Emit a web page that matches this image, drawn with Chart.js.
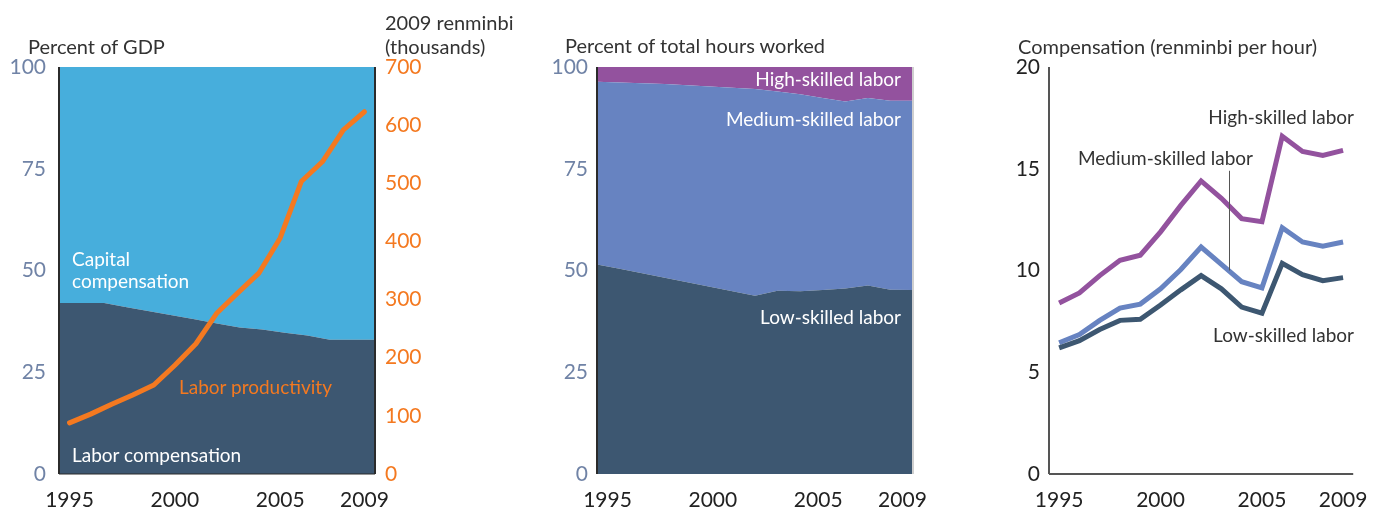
<!DOCTYPE html>
<html>
<head>
<meta charset="utf-8">
<script src="https://cdn.jsdelivr.net/npm/chart.js@4"></script>
<style>
  html, body { margin: 0; padding: 0; background: #fff; }
  body { width: 1382px; height: 510px; position: relative; overflow: hidden; font-family: Lato, "Open Sans", sans-serif; }
  .box { position: absolute; top: 0; height: 510px; }
  .txt { position: absolute; font-size: 19px; line-height: 22px; white-space: nowrap; color: #333; }
  .ttl { font-size: 20px; line-height: 24px; }
  .w { color: #fff; }
</style>
</head>
<body>
<div class="box" style="left:0;width:460px"><canvas id="c1"></canvas></div>
<div class="box" style="left:500px;width:460px"><canvas id="c2"></canvas></div>
<div class="box" style="left:990px;width:392px"><canvas id="c3"></canvas></div>

<div class="txt ttl" style="left:28px;top:34px">Percent of GDP</div>
<div class="txt ttl" style="left:385px;top:10px">2009 renminbi<br>(thousands)</div>
<div class="txt w" style="left:72px;top:248px">Capital<br>compensation</div>
<div class="txt" style="left:179px;top:376px;color:#f47920">Labor productivity</div>
<div class="txt w" style="left:72px;top:444px">Labor compensation</div>

<div class="txt ttl" style="left:565px;top:33px">Percent of total hours worked</div>
<div class="txt w" style="right:481px;top:68px">High-skilled labor</div>
<div class="txt w" style="right:481px;top:108px">Medium-skilled labor</div>
<div class="txt w" style="right:481px;top:306px">Low-skilled labor</div>

<div class="txt ttl" style="left:1018px;top:34px">Compensation (renminbi per hour)</div>
<div class="txt" style="right:28px;top:106px">High-skilled labor</div>
<div class="txt" style="right:129px;top:147px">Medium-skilled labor</div>
<div class="txt" style="right:28px;top:324px">Low-skilled labor</div>

<script>
// ---------- data ----------
const years = ['1995','1996','1997','1998','1999','2000','2001','2002','2003','2004','2005','2006','2007','2008','2009'];
const shownYears = ['1995','2000','2005','2009'];

// Panel 1: shares of GDP (percent) and labor productivity (2009 renminbi, thousands)
const laborCompShare   = [42, 42, 42, 41, 40, 39, 38, 37, 36, 35.5, 34.7, 34, 33, 33, 33];
const capitalCompShare = [58, 58, 58, 59, 60, 61, 62, 63, 64, 64.5, 65.3, 66, 67, 67, 67];
const laborProductivity = [88, 103, 120, 136, 153, 187, 224, 277, 312, 346, 406, 503, 537, 592, 623];

// Panel 2: percent of total hours worked
const lowSkillHours    = [51.5, 50.4, 49.3, 48.2, 47.1, 46.0, 44.9, 43.8, 45.0, 44.9, 45.2, 45.6, 46.3, 45.3, 45.2];
const mediumSkillHours = [44.9, 45.8, 46.7, 47.6, 48.4, 49.2, 50.0, 50.8, 49.0, 48.4, 47.2, 45.9, 46.1, 46.4, 46.5];
const highSkillHours   = [3.6, 3.8, 4.0, 4.2, 4.5, 4.8, 5.1, 5.4, 6.0, 6.7, 7.6, 8.5, 7.6, 8.3, 8.3];

// Panel 3: compensation (renminbi per hour)
const highSkillComp   = [8.4, 8.9, 9.75, 10.5, 10.75, 11.9, 13.2, 14.4, 13.55, 12.55, 12.4, 16.6, 15.85, 15.65, 15.9];
const mediumSkillComp = [6.45, 6.85, 7.55, 8.15, 8.35, 9.1, 10.05, 11.15, 10.3, 9.45, 9.15, 12.1, 11.4, 11.2, 11.4];
const lowSkillComp    = [6.2, 6.55, 7.1, 7.55, 7.6, 8.3, 9.05, 9.75, 9.1, 8.2, 7.9, 10.35, 9.8, 9.5, 9.65];

const pctTicks = [0, 25, 50, 75, 100];

// ---------- styles ----------
const FONT = 'Lato, "Open Sans", sans-serif';
const C = { capital:'#47aedc', labor:'#3d5771', orange:'#f47920', medium:'#6783c1', high:'#93529e', tickBlue:'#7083a6', dark:'#222' };

function fixedWidth(w){ return function(s){ s.width = w; }; }
function fixedHeight(h){ return function(s){ s.height = h; }; }

function xAxes(){
  return {
    x: { type:'category', offset:true, grid:{ display:false, drawTicks:false }, border:{ display:false },
         ticks:{ autoSkip:false, maxRotation:0, padding:14, color:'#222', font:{ family:FONT, size:21 },
                 callback:function(v){ const l = this.getLabelForValue(v); return shownYears.includes(l) ? l : ''; } },
         afterFit: fixedHeight(36) },
    xa:{ type:'category', offset:false, display:false }
  };
}

const framePlugin = {
  id:'frame',
  afterDatasetsDraw(chart, args, opts){
    const ctx = chart.ctx, a = chart.chartArea;
    ctx.save();
    (opts.lines||[]).forEach(l=>{
      ctx.strokeStyle = l.color; ctx.lineWidth = l.width;
      ctx.beginPath();
      if (l.side==='left'){ ctx.moveTo(a.left, a.top); ctx.lineTo(a.left, a.bottom); }
      if (l.side==='right'){ ctx.moveTo(a.right, a.top); ctx.lineTo(a.right, a.bottom); }
      if (l.side==='bottom'){ ctx.moveTo(a.left, a.bottom); ctx.lineTo(a.right, a.bottom); }
      ctx.stroke();
    });
    if (opts.leader){
      const xs = chart.scales.x, ys = chart.scales.y;
      const px = xs.getPixelForValue(opts.leader.x);
      ctx.strokeStyle = '#555'; ctx.lineWidth = 1;
      ctx.beginPath();
      ctx.moveTo(px, ys.getPixelForValue(opts.leader.y1));
      ctx.lineTo(px, ys.getPixelForValue(opts.leader.y2));
      ctx.stroke();
    }
    ctx.restore();
  }
};

const common = { responsive:true, maintainAspectRatio:false, animation:false, events:[],
  plugins:{ legend:{ display:false }, tooltip:{ enabled:false } } };

// ---------- Panel 1 ----------
new Chart(document.getElementById('c1'), {
  type:'line',
  data:{ labels: years, datasets:[
    { data: laborProductivity, xAxisID:'x', yAxisID:'y2', borderColor:C.orange, borderWidth:5, pointRadius:0, fill:false, order:-1, borderJoinStyle:'round', borderCapStyle:'round' },
    { data: laborCompShare, xAxisID:'xa', yAxisID:'y', backgroundColor:C.labor, borderWidth:0, pointRadius:0, fill:'origin', stack:'s' },
    { data: capitalCompShare, xAxisID:'xa', yAxisID:'y', backgroundColor:C.capital, borderWidth:0, pointRadius:0, fill:'-1', stack:'s' }
  ]},
  options:Object.assign({}, common, {
    layout:{ padding:{ top:67, left:0, right:0, bottom:0 } },
    scales: Object.assign(xAxes(), {
      y:{ stacked:true, min:0, max:100, position:'left', grid:{ display:false, drawTicks:false }, border:{ display:false },
          afterBuildTicks: s=>{ s.ticks = pctTicks.map(v=>({value:v})); },
          ticks:{ padding:13, color:C.tickBlue, font:{ family:FONT, size:21 } }, afterFit: fixedWidth(59) },
      y2:{ min:0, max:700, position:'right', grid:{ display:false, drawTicks:false }, border:{ display:false },
          ticks:{ stepSize:100, padding:10, color:C.orange, font:{ family:FONT, size:21 } }, afterFit: fixedWidth(85) }
    }),
    plugins:Object.assign({}, common.plugins, { frame:{ lines:[
      {side:'left', color:'#2b2b2b', width:2}, {side:'right', color:'#2b2b2b', width:2}, {side:'bottom', color:'#2b2b2b', width:1} ] } })
  }),
  plugins:[framePlugin]
});

// ---------- Panel 2 ----------
new Chart(document.getElementById('c2'), {
  type:'line',
  data:{ labels: years, datasets:[
    { data: lowSkillHours, xAxisID:'xa', yAxisID:'y', backgroundColor:C.labor, borderWidth:0, pointRadius:0, fill:'origin', stack:'s' },
    { data: mediumSkillHours, xAxisID:'xa', yAxisID:'y', backgroundColor:C.medium, borderWidth:0, pointRadius:0, fill:'-1', stack:'s' },
    { data: highSkillHours, xAxisID:'xa', yAxisID:'y', backgroundColor:C.high, borderWidth:0, pointRadius:0, fill:'-1', stack:'s' }
  ]},
  options:Object.assign({}, common, {
    layout:{ padding:{ top:67, left:0, right:47, bottom:0 } },
    scales: Object.assign(xAxes(), {
      y:{ stacked:true, min:0, max:100, position:'left', grid:{ display:false, drawTicks:false }, border:{ display:false },
          afterBuildTicks: s=>{ s.ticks = pctTicks.map(v=>({value:v})); },
          ticks:{ padding:9, color:C.tickBlue, font:{ family:FONT, size:21 } }, afterFit: fixedWidth(97) }
    }),
    plugins:Object.assign({}, common.plugins, { frame:{ lines:[
      {side:'left', color:'#2b2b2b', width:2}, {side:'right', color:'#cfcfcf', width:2} ] } })
  }),
  plugins:[framePlugin]
});

// ---------- Panel 3 ----------
new Chart(document.getElementById('c3'), {
  type:'line',
  data:{ labels: years, datasets:[
    { data: lowSkillComp, borderColor:C.labor, borderWidth:5, pointRadius:0, fill:false },
    { data: mediumSkillComp, borderColor:C.medium, borderWidth:5, pointRadius:0, fill:false },
    { data: highSkillComp, borderColor:C.high, borderWidth:5, pointRadius:0, fill:false }
  ]},
  options:Object.assign({}, common, {
    layout:{ padding:{ top:67, left:0, right:17, bottom:0 } },
    scales: Object.assign(xAxes(), {
      y:{ min:0, max:20, position:'left', grid:{ display:false, drawTicks:false }, border:{ display:false },
          ticks:{ stepSize:5, padding:9, color:'#222', font:{ family:FONT, size:21 } }, afterFit: fixedWidth(59) }
    }),
    plugins:Object.assign({}, common.plugins, { frame:{ lines:[
      {side:'left', color:'#555', width:2}, {side:'bottom', color:'#555', width:2} ],
      leader:{ x: 8.4, y1: 14.9, y2: 10.0 } } })
  }),
  plugins:[framePlugin]
});
</script>
</body>
</html>
